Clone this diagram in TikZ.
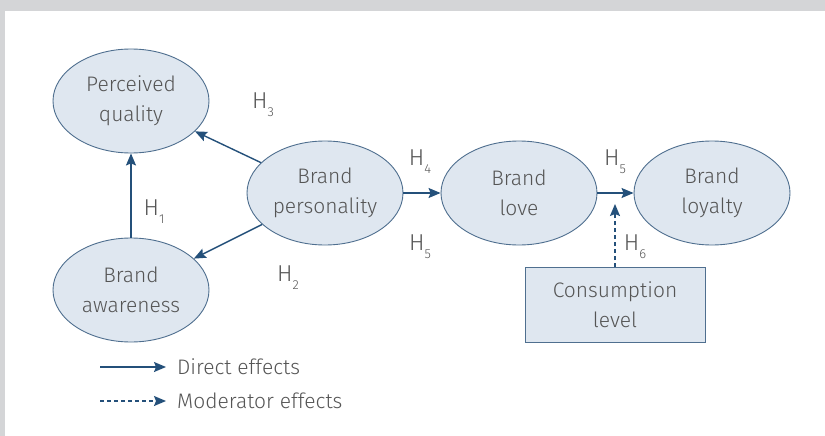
\documentclass[tikz,border=0pt]{standalone}
\usepackage{fontspec}
\setmainfont{Fira Sans Light}
\usetikzlibrary{arrows.meta,shapes.geometric}
\definecolor{framegray}{HTML}{D4D5D7}
\definecolor{nodefill}{HTML}{DFE7F0}
\definecolor{nodeline}{HTML}{4F6F8F}
\definecolor{arrcol}{HTML}{24507A}
\definecolor{txtcol}{HTML}{555555}
\newcommand{\hsub}[1]{H\raisebox{-0.35em}{\fontsize{13}{14}\selectfont #1}}
\tikzset{
  construct/.style={ellipse,draw=nodeline,fill=nodefill,line width=0.9pt,minimum width=156pt,minimum height=104pt,inner sep=0pt,align=center,text=txtcol,font=\fontsize{21}{30}\selectfont},
  boxnode/.style={rectangle,draw=nodeline,fill=nodefill,line width=0.9pt,minimum width=180pt,minimum height=75pt,inner sep=0pt,align=center,text=txtcol,font=\fontsize{21}{30}\selectfont},
  arr/.style={draw=arrcol,line width=1.4pt,-{Stealth[length=12pt,width=10pt,inset=2pt]}},
  modarr/.style={arr,dashed,dash pattern=on 4pt off 3pt},
  hlab/.style={text=txtcol,font=\fontsize{23}{24}\selectfont,inner sep=0pt},
  legtext/.style={text=txtcol,font=\fontsize{21}{24}\selectfont,inner sep=0pt,anchor=west}
}
\begin{document}
\begin{tikzpicture}[x=1pt,y=-1pt]
\useasboundingbox (0,0) rectangle (825,436);
\fill[white] (0,0) rectangle (825,436);
\fill[framegray] (0,0) rectangle (825,11);
\fill[framegray] (0,0) rectangle (5,436);

\node[construct] (pq) at (131,101) {Perceived\\quality};
\node[construct] (ba) at (131,290) {Brand\\awareness};
\node[construct] (bp) at (325,193) {Brand\\personality};
\node[construct] (bl) at (519,193) {Brand\\love};
\node[construct] (by) at (712,193) {Brand\\loyalty};
\node[boxnode] (cl) at (615,305) {Consumption\\level};

\draw[arr] (ba) -- (pq);
\draw[arr] (bp) -- (pq);
\draw[arr] (bp) -- (ba);
\draw[arr] (bp) -- (bl);
\draw[arr] (bl) -- (by);
\coordinate (h6end) at (615,204);
\draw[modarr] (cl.north) -- (h6end);

\node[hlab] (h1) at (154,212) {\hsub{1}};
\node[hlab] (h3) at (263,105) {\hsub{3}};
\node[hlab] (h2) at (288,278) {\hsub{2}};
\node[hlab] (h4) at (420,162) {\hsub{4}};
\node[hlab] (h5b) at (420,247) {\hsub{5}};
\node[hlab] (h5) at (615,162) {\hsub{5}};
\node[hlab] (h6) at (635,247) {\hsub{6}};

\coordinate (l1a) at (100,367);
\coordinate (l1b) at (166,367);
\coordinate (l2a) at (100,401);
\coordinate (l2b) at (166,401);
\draw[arr] (l1a) -- (l1b);
\draw[modarr] (l2a) -- (l2b);
\node[legtext] (t1) at (177,367) {Direct effects};
\node[legtext] (t2) at (177,401) {Moderator effects};
\end{tikzpicture}
\end{document}
